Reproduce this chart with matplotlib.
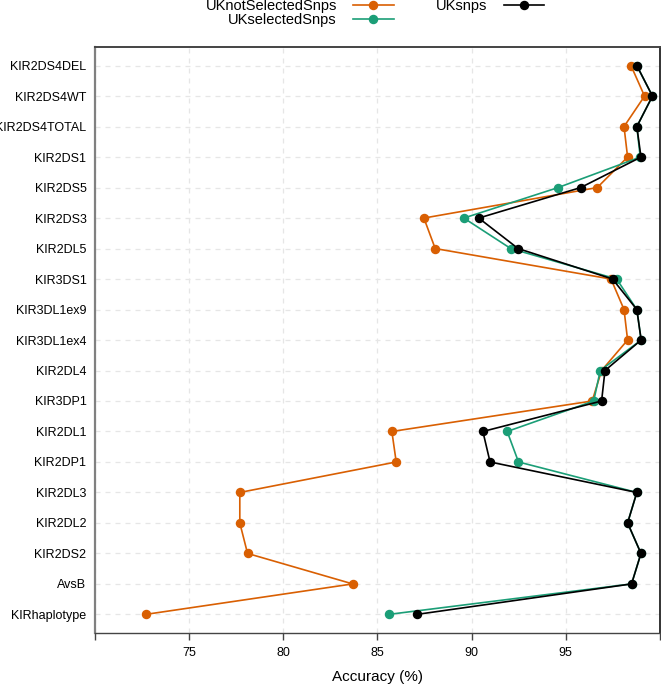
import matplotlib
matplotlib.use("Agg")
from matplotlib import pyplot as plt

plt.rcParams['font.family'] = ['Liberation Sans', 'DejaVu Sans']

# Data (top to bottom)
genes = ['KIR2DS4DEL', 'KIR2DS4WT', 'KIR2DS4TOTAL', 'KIR2DS1', 'KIR2DS5',
         'KIR2DS3', 'KIR2DL5', 'KIR3DS1', 'KIR3DL1ex9', 'KIR3DL1ex4',
         'KIR2DL4', 'KIR3DP1', 'KIR2DL1', 'KIR2DP1', 'KIR2DL3',
         'KIR2DL2', 'KIR2DS2', 'AvsB', 'KIRhaplotype']
uk_not_selected = [98.46, 99.18, 98.09, 98.28, 96.67, 87.47, 88.07, 97.4, 98.09, 98.28,
                   96.9, 96.4, 85.77, 86.0, 77.7, 77.7, 78.11, 83.69, 72.7]
uk_selected = [98.77, 99.6, 98.77, 98.95, 94.59, 89.59, 92.08, 97.7, 98.77, 99.0,
               96.83, 96.48, 91.89, 92.49, 98.77, 98.28, 98.99, 98.49, 85.6]
uk_snps = [98.77, 99.6, 98.77, 98.99, 95.79, 90.38, 92.47, 97.48, 98.77, 99.0,
           97.08, 96.9, 90.6, 90.98, 98.77, 98.28, 98.99, 98.49, 87.1]
series_names = ['UKnotSelectedSnps', 'UKselectedSnps', 'UKsnps']
series_colors = ['#D95F02', '#1B9E77', '#000000']
xticks = [70, 75, 80, 85, 90, 95, 100]

fig = plt.figure(figsize=(6.61, 6.84), dpi=100)
ax = fig.add_axes([0.1433, 0.075, 0.8552, 0.8558])

ypos = list(range(len(genes)))
handles = {}
for name, vals, col, z in zip(series_names, [uk_not_selected, uk_selected, uk_snps],
                              series_colors, [3, 4, 5]):
    h, = ax.plot(vals, ypos, color=col, lw=1.2, marker='o', ms=5.8, zorder=z, label=name)
    handles[name] = h

ax.set_xlim(70, 100)
ax.set_ylim(len(genes) - 0.4, -0.6)
ax.set_yticks(ypos)
ax.set_yticklabels(genes, fontsize=9)
ax.set_xticks(xticks)
ax.set_xticklabels(['' if t in (70, 100) else str(t) for t in xticks], fontsize=9)
ax.tick_params(axis='y', length=0, pad=6)
ax.tick_params(axis='x', length=5, width=1, color='#444444', direction='out', pad=5)
ax.set_xlabel('Accuracy (%)', fontsize=11, labelpad=8)

ax.grid(True, color='#e6e6e6', linestyle=(0, (4, 4)), linewidth=0.9, zorder=0)
ax.set_axisbelow(True)

ax.spines['left'].set_color('#808080')
ax.spines['left'].set_linewidth(1.6)
ax.spines['bottom'].set_color('#444444')
ax.spines['bottom'].set_linewidth(1.0)
ax.spines['top'].set_color('#444444')
ax.spines['top'].set_linewidth(1.4)
ax.spines['right'].set_color('#111111')
ax.spines['right'].set_linewidth(1.2)

fig.legend([handles[n] for n in series_names], series_names, ncol=2,
           loc='center', bbox_to_anchor=(375 / 661, 1 - 13 / 684),
           frameon=False, markerfirst=False, fontsize=10.5,
           labelspacing=0.0, handlelength=2.8, handletextpad=1.1,
           columnspacing=2.9, borderpad=0, borderaxespad=0)

fig.savefig('out.png', dpi=100)
